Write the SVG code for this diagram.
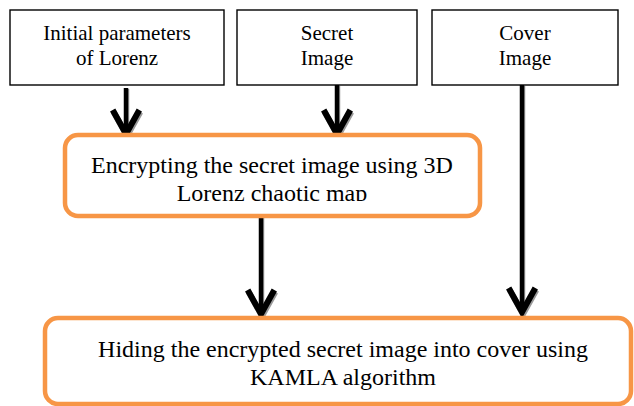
<svg xmlns="http://www.w3.org/2000/svg" width="634" height="406" viewBox="0 0 634 406">
<style>
.box{fill:#fff;stroke:#000;stroke-width:1.4}
.obox{fill:#fff;stroke:#F79646;stroke-width:4.5}
text{font-family:'Liberation Serif','DejaVu Serif',serif;fill:#000;text-anchor:middle}
.s{font-size:21px}
.m{font-size:24px}
.ln{stroke:#000;stroke-width:4.5;fill:none;marker-end:url(#ah)}
.sh{stroke:#999;stroke-width:4.5;fill:none;marker-end:url(#ahs)}
</style>
<defs>
<marker id="ah" markerUnits="userSpaceOnUse" orient="auto" refX="0" refY="0" markerWidth="40" markerHeight="40" viewBox="-25 -15 30 30" overflow="visible">
<path d="M-18,-10 L0,0 L-18,10" fill="none" stroke="#000" stroke-width="4.5" stroke-linejoin="miter"/>
</marker>
<marker id="ahs" markerUnits="userSpaceOnUse" orient="auto" refX="0" refY="0" markerWidth="40" markerHeight="40" viewBox="-25 -15 30 30" overflow="visible">
<path d="M-18,-10 L0,0 L-18,10" fill="none" stroke="#999" stroke-width="4.5" stroke-linejoin="miter"/>
</marker>
<clipPath id="c1"><rect x="60" y="130" width="430" height="71"/></clipPath>
</defs>
<g id="n-initial">
<rect class="box" x="10" y="10" width="214" height="75"/>
<text class="s" font-family="Liberation Serif, serif" x="117" y="40">Initial parameters</text>
<text class="s" font-family="Liberation Serif, serif" x="117" y="65">of Lorenz</text>
</g>
<g id="n-secret">
<rect class="box" x="237" y="10" width="180" height="75"/>
<text class="s" font-family="Liberation Serif, serif" x="327" y="40">Secret</text>
<text class="s" font-family="Liberation Serif, serif" x="327" y="65">Image</text>
</g>
<g id="n-cover">
<rect class="box" x="432" y="10" width="186" height="75"/>
<text class="s" font-family="Liberation Serif, serif" x="525" y="40">Cover</text>
<text class="s" font-family="Liberation Serif, serif" x="525" y="65">Image</text>
</g>
<g id="connectors">
<line class="sh" x1="127" y1="89" x2="127" y2="136"/>
<line class="ln" x1="126" y1="88" x2="126" y2="134"/>
<line class="sh" x1="338" y1="86" x2="338" y2="136"/>
<line class="ln" x1="337" y1="85" x2="337" y2="134"/>
<line class="sh" x1="262" y1="217" x2="262" y2="316"/>
<line class="ln" x1="261" y1="216" x2="261" y2="314"/>
<line class="sh" x1="523" y1="86" x2="523" y2="314"/>
<line class="ln" x1="522" y1="85" x2="522" y2="312"/>
</g>
<g id="n-encrypt">
<rect class="obox" x="65" y="135" width="415" height="81" rx="13"/>
<text class="m" font-family="Liberation Serif, serif" x="272" y="173">Encrypting the secret image using 3D</text>
<text class="m" font-family="Liberation Serif, serif" x="272" y="201" clip-path="url(#c1)">Lorenz chaotic map</text>
</g>
<g id="n-hide">
<rect class="obox" x="45" y="318" width="586" height="86" rx="13"/>
<text class="m" font-family="Liberation Serif, serif" x="343" y="357">Hiding the encrypted secret image into cover using</text>
<text class="m" font-family="Liberation Serif, serif" x="343" y="385">KAMLA algorithm</text>
</g>
</svg>
